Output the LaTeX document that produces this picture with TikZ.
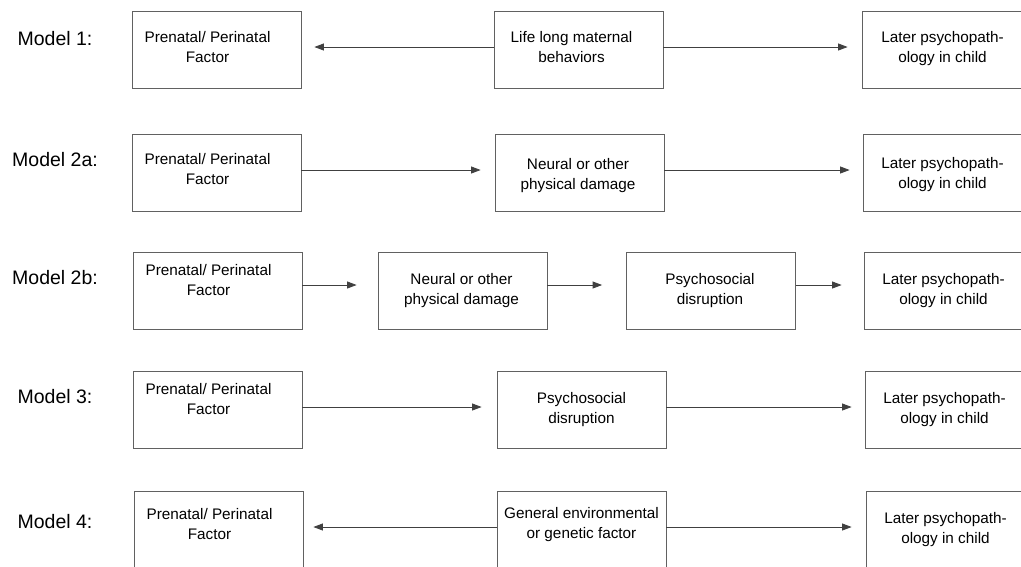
\documentclass[tikz,border=0pt]{standalone}
\usepackage{fontspec}
\setmainfont{Liberation Sans}
\usetikzlibrary{arrows.meta}
\begin{document}
\begin{tikzpicture}[x=1pt,y=-1pt,
  box/.style={draw=black!62, line width=0.8pt, minimum width=169pt, minimum height=77pt, inner sep=0pt},
  txt/.style={align=center, font=\fontsize{15.3}{20}\selectfont, text=black, inner sep=0pt},
  mlabel/.style={font=\fontsize{19.5}{22}\selectfont, text=black, inner sep=0pt},
  arr/.style={draw=black!75, line width=0.8pt, -{Triangle[length=9.5pt,width=7pt]}}]
\useasboundingbox (0,0) rectangle (1021,566);
\clip (0,0) rectangle (1021,566);

% model labels
\node[mlabel] (m1)  at (55,39)  {Model 1:};
\node[mlabel] (m2a) at (55,160) {Model 2a:};
\node[mlabel] (m2b) at (55,278) {Model 2b:};
\node[mlabel] (m3)  at (55,397) {Model 3:};
\node[mlabel] (m4)  at (55,522) {Model 4:};

% row 1
\node[box, label={[txt,xshift=-9pt,yshift=2pt]center:{Prenatal/ Perinatal\\Factor}}] (L1) at (216.5,49.5) {};
\node[box, label={[txt,xshift=-7pt,yshift=2pt]center:{Life long maternal\\behaviors}}] (M1) at (578.5,49.5) {};
\node[box, label={[txt,xshift=-4pt,yshift=1pt]center:{Later psychopath-\\ology in child}}] (R1) at (946.5,49.5) {};
\draw[arr, shorten >=13pt] ([yshift=2.5pt]M1.west) -- ([yshift=2.5pt]L1.east);
\draw[arr, shorten >=14pt] ([yshift=2.5pt]M1.east) -- ([yshift=2.5pt]R1.west);

% row 2a
\node[box, label={[txt,xshift=-9pt,yshift=3.5pt]center:{Prenatal/ Perinatal\\Factor}}] (L2a) at (216.5,172.5) {};
\node[box, label={[txt,xshift=-1.5pt,yshift=-3pt]center:{Neural or other\\physical damage}}] (M2a) at (579.5,172.5) {};
\node[box, label={[txt,xshift=-5pt,yshift=-2pt]center:{Later psychopath-\\ology in child}}] (R2a) at (947.5,172.5) {};
\draw[arr, shorten >=14pt] ([yshift=2.5pt]L2a.east) -- ([yshift=2.5pt]M2a.west);
\draw[arr, shorten >=13pt] ([yshift=2.5pt]M2a.east) -- ([yshift=2.5pt]R2a.west);

% row 2b
\node[box, label={[txt,xshift=-9pt,yshift=10.5pt]center:{Prenatal/ Perinatal\\Factor}}] (L2b) at (217.5,290.5) {};
\node[box, label={[txt,xshift=-1pt]center:{Neural or other\\physical damage}}] (N2b) at (462.5,290.5) {};
\node[box, label={[txt,xshift=-1pt]center:{Psychosocial\\disruption}}] (P2b) at (711,290.5) {};
\node[box, label={[txt,xshift=-5pt]center:{Later psychopath-\\ology in child}}] (R2b) at (948.5,291) {};
\draw[arr, shorten >=21pt] ([yshift=5.5pt]L2b.east) -- ([yshift=5.5pt]N2b.west);
\draw[arr, shorten >=24pt] ([yshift=5.5pt]N2b.east) -- ([yshift=5.5pt]P2b.west);
\draw[arr, shorten >=22pt] ([yshift=5.5pt]P2b.east) -- ([yshift=6pt]R2b.west);

% row 3
\node[box, label={[txt,xshift=-9pt,yshift=10.5pt]center:{Prenatal/ Perinatal\\Factor}}] (L3) at (217.5,409.5) {};
\node[box, label={[txt,yshift=-0.5pt]center:{Psychosocial\\disruption}}] (M3) at (581.5,409.5) {};
\node[box, label={[txt,xshift=-5pt]center:{Later psychopath-\\ology in child}}] (R3) at (949.5,409.5) {};
\draw[arr, shorten >=15pt] ([yshift=2.5pt]L3.east) -- ([yshift=2.5pt]M3.west);
\draw[arr, shorten >=13pt] ([yshift=2.5pt]M3.east) -- ([yshift=2.5pt]R3.west);

% row 4
\node[box, label={[txt,xshift=-9pt,yshift=5pt]center:{Prenatal/ Perinatal\\Factor}}] (L4) at (218.5,529.5) {};
\node[box, label={[txt,yshift=5pt]center:{General environmental\\or genetic factor}}] (M4) at (581.5,529.5) {};
\node[box, label={[txt,xshift=-5pt]center:{Later psychopath-\\ology in child}}] (R4) at (950.5,529.5) {};
\draw[arr, shorten >=10pt] ([yshift=2.5pt]M4.west) -- ([yshift=2.5pt]L4.east);
\draw[arr, shorten >=14pt] ([yshift=2.5pt]M4.east) -- ([yshift=2.5pt]R4.west);
\end{tikzpicture}
\end{document}
